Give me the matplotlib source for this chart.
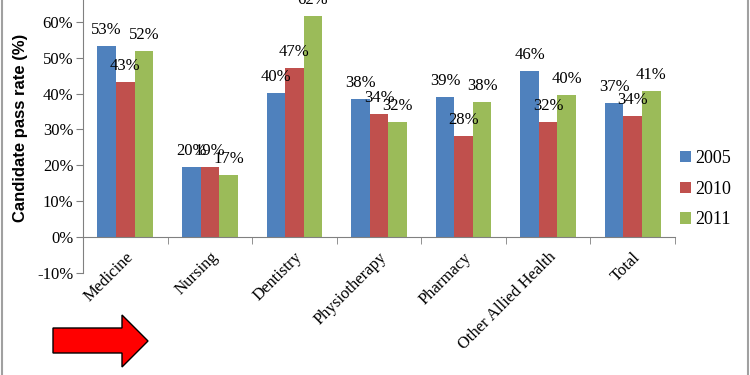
import numpy as np
import matplotlib
matplotlib.use('Agg')
import matplotlib.pyplot as plt
from matplotlib.patches import Polygon
from matplotlib.lines import Line2D

plt.rcParams['font.family'] = ['Liberation Serif', 'DejaVu Serif']

# veriler
categories = ['Medicine', 'Nursing', 'Dentistry', 'Physiotherapy', 'Pharmacy',
              'Other Allied Health', 'Total']
years = ['2005', '2010', '2011']
rate_2005 = [53.2, 19.6, 40.2, 38.4, 39.2, 46.3, 37.4]
rate_2010 = [43.3, 19.4, 47.1, 34.2, 28.1, 32.0, 33.8]
rate_2011 = [52.0, 17.3, 61.8, 32.2, 37.8, 39.7, 40.7]
colors = ['#4F81BD', '#C0504D', '#9BBB59']

fig = plt.figure(figsize=(7.5, 3.75), dpi=100)
ax = fig.add_axes([0.1107, 0.2733, 0.7893, 0.7267])

# eksen çizgileri (tik ayarlarından önce, çünkü tikleri sıfırlıyor)
ax.spines['bottom'].set_position(('data', 0))
ax.spines['top'].set_visible(False)
ax.spines['right'].set_visible(False)
for s in ['left', 'bottom']:
    ax.spines[s].set_color('#808080')

x = np.arange(len(categories))
w = 0.22
series = [rate_2005, rate_2010, rate_2011]
for i, vals in enumerate(series):
    pos = x + (i - 1) * w
    ax.bar(pos, vals, w, color=colors[i], label=years[i])
    for p, v in zip(pos, vals):
        ax.annotate(f'{round(v)}%', (p, v), xytext=(0, 16), textcoords='offset pixels',
                    ha='center', va='center', fontsize=12, annotation_clip=False)

ax.set_xlim(-0.5, len(categories) - 0.5)
ax.set_ylim(-10, 66.2)
ax.set_yticks(np.arange(-10, 61, 10))
ax.set_yticklabels([f'{t}%' for t in range(-10, 61, 10)], fontsize=12)

# etiketler kategorilerin ortasında, tikler sınırlarda (minor)
ax.set_xticks(x)
ax.set_xticklabels(categories, rotation=45, ha='right', rotation_mode='anchor',
                   fontsize=12)
ax.tick_params(axis='x', which='major', length=0, pad=9)
ax.set_xticks(np.arange(0.5, len(categories) - 0.5 + 0.01, 1), minor=True)
ax.tick_params(axis='x', which='minor', length=5, direction='out', color='#808080')
ax.tick_params(axis='y', length=5, direction='out', color='#808080', pad=2)

ax.set_ylabel('Candidate pass rate (%)', fontsize=12, fontweight='bold',
              family=['Liberation Sans', 'DejaVu Sans'])
ax.yaxis.set_label_coords(-0.093, 0.53)

ax.legend(loc='center left', bbox_to_anchor=(1.0, 0.306), frameon=False, fontsize=13,
          handlelength=0.6, handleheight=0.6, handletextpad=0.2, labelspacing=0.75,
          borderaxespad=0, borderpad=0.3)

# çerçeve çizgileri
fig.add_artist(Line2D([0.003, 0.003], [0, 1], color='#a0a0a0', lw=1.5))
fig.add_artist(Line2D([0.997, 0.997], [0, 1], color='#a0a0a0', lw=1.5))

# kırmızı ok
pts = np.array([(53, 328), (122, 328), (122, 315), (148, 341), (122, 367),
                (122, 353), (53, 353)], dtype=float)
pts[:, 1] = 375 - pts[:, 1]
arrow = Polygon(pts, closed=True, facecolor='#ff0000', edgecolor='black',
                linewidth=1, transform=None)
fig.patches.append(arrow)

fig.savefig('out.png', dpi=100)
